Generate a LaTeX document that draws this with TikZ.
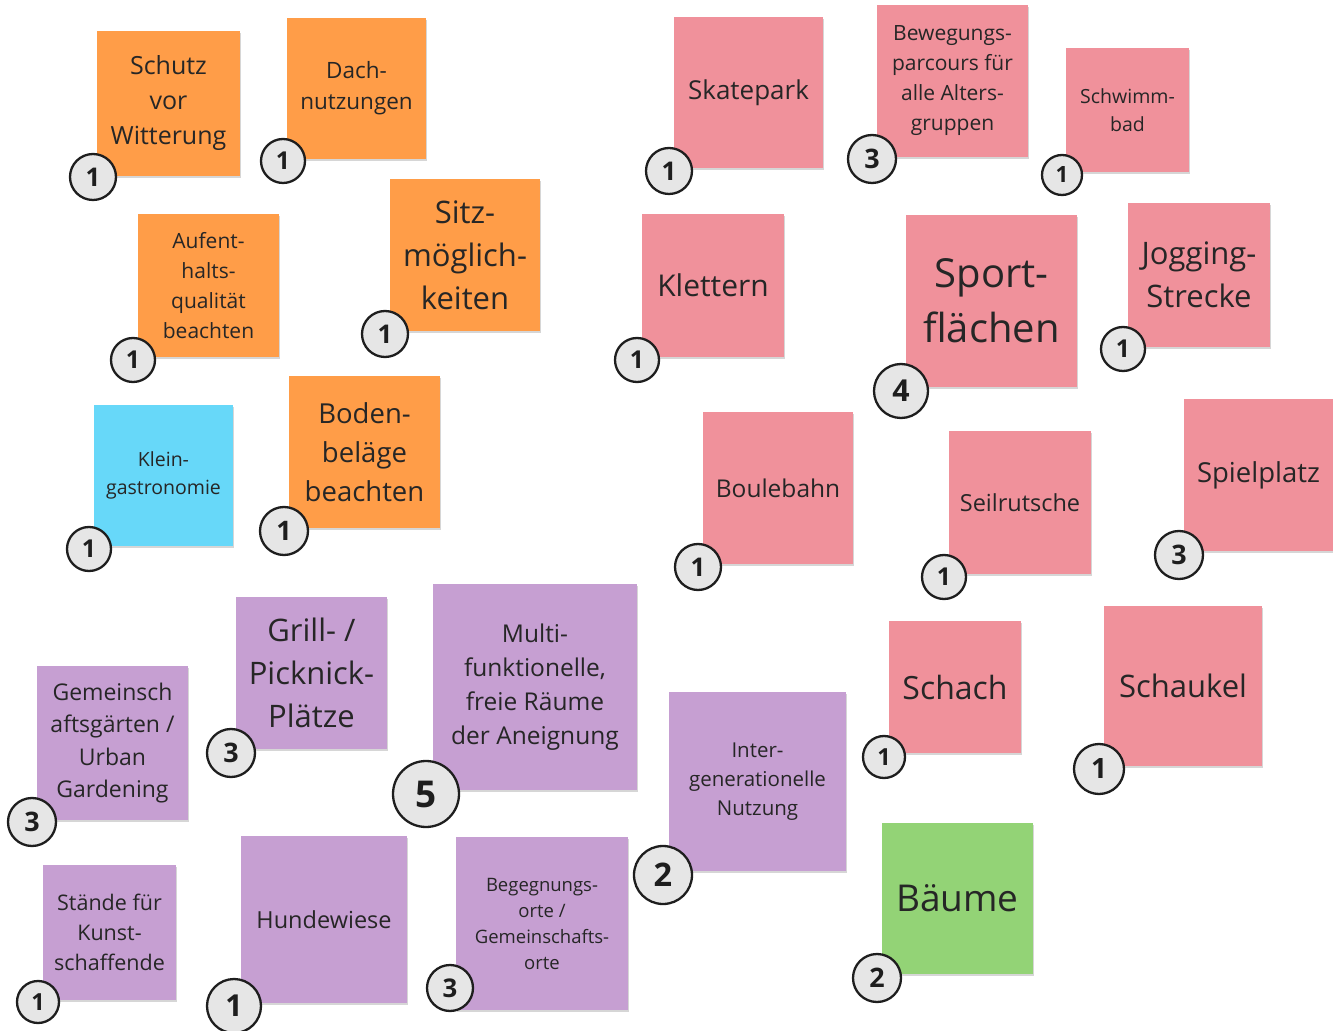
\documentclass[tikz,border=0pt]{standalone}
\usepackage{fontspec}
\setmainfont{Open Sans}
\usetikzlibrary{shadows}

\definecolor{ornote}{HTML}{FF9D48}
\definecolor{pknote}{HTML}{F0919B}
\definecolor{punote}{HTML}{C69FD2}
\definecolor{blnote}{HTML}{67D8F9}
\definecolor{grnote}{HTML}{93D376}
\definecolor{inktext}{HTML}{262626}
\definecolor{badgefill}{HTML}{E6E6E6}
\definecolor{badgeline}{HTML}{1E1E1E}

\tikzset{
  note/.style={rectangle, inner sep=0pt, align=center, text=inktext,
    drop shadow={shadow xshift=0.4pt, shadow yshift=-0.9pt, fill=black, opacity=0.16}},
  countbadge/.style={circle, inner sep=0pt, fill=badgefill, draw=badgeline,
    line width=1.15pt, text=badgeline},
}

% sticky note: name, x1, y1, x2, y2, colour, font size (px), line skip (px), text
\newcommand\stickynote[9]{%
  \pgfmathsetmacro\snw{(#4-#2)*0.5}%
  \pgfmathsetmacro\snh{(#5-#3)*0.5}%
  \pgfmathsetmacro\snfs{#7*0.5}%
  \pgfmathsetmacro\snsk{#8*0.5}%
  \node[note, fill=#6, minimum width=\snw pt, minimum height=\snh pt,
        font=\fontsize{\snfs}{\snsk}\selectfont] (#1) at ({(#2+#4)/2},{(#3+#5)/2}) {#9};}

% vote counter: name, x, y, radius (px), number
\newcommand\votebadge[5]{%
  \pgfmathsetmacro\vbd{#4}%
  \pgfmathsetmacro\vbf{#4*0.56}%
  \node[countbadge, minimum size=\vbd pt,
        font=\bfseries\fontsize{\vbf}{\vbf}\selectfont] (#1) at (#2,#3) {#5};}

\begin{document}
\begin{tikzpicture}[x=0.5pt, y=-0.5pt]
\useasboundingbox (0,0) rectangle (1333,1031);

% orange group
\stickynote{sw}{97}{31}{240}{176}{ornote}{25}{35}{Schutz\\vor\\Witterung}
\stickynote{dn}{287}{18}{426}{159}{ornote}{22.5}{31}{Dach-\\nutzungen}
\stickynote{aq}{138}{214}{279}{357}{ornote}{21}{30}{Aufent-\\halts-\\qualität\\beachten}
\stickynote{sm}{390}{179}{540}{331}{ornote}{31}{43}{Sitz-\\möglich-\\keiten}
\stickynote{bb}{289}{376}{440}{528}{ornote}{27.5}{39}{Boden-\\beläge\\beachten}
\stickynote{kg}{94}{405}{233}{546}{blnote}{19.5}{28}{Klein-\\gastronomie}

% pink group
\stickynote{sk}{674}{17}{823}{168}{pknote}{26}{34}{Skatepark}
\stickynote{bp}{877}{5}{1028}{157}{pknote}{21}{30}{Bewegungs-\\parcours für\\alle Alters-\\gruppen}
\stickynote{sb}{1066}{48}{1189}{172}{pknote}{19.5}{28}{Schwimm-\\bad}
\stickynote{kl}{642}{214}{784}{357}{pknote}{30}{40}{Klettern}
\stickynote{sf}{906}{215}{1077}{387}{pknote}{40}{55}{Sport-\\flächen}
\stickynote{js}{1128}{203}{1270}{347}{pknote}{31}{43}{Jogging-\\Strecke}
\stickynote{bo}{703}{412}{853}{564}{pknote}{24.5}{32}{Boulebahn}
\stickynote{sr}{949}{431}{1091}{574}{pknote}{23.5}{32}{Seilrutsche}
\stickynote{sp}{1184}{399}{1333}{551}{pknote}{27.5}{36}{Spielplatz}
\stickynote{sc}{889}{621}{1021}{753}{pknote}{32}{42}{Schach}
\stickynote{sa}{1104}{606}{1262}{766}{pknote}{31}{40}{Schaukel}

% purple group
\stickynote{gg}{37}{666}{188}{820}{punote}{23}{32.5}{Gemeinsch\\aftsgärten /\\Urban\\Gardening}
\stickynote{gp}{236}{597}{387}{749}{punote}{31}{43}{Grill- /\\Picknick-\\Plätze}
\stickynote{mf}{433}{584}{637}{790}{punote}{24.5}{34}{Multi-\\funktionelle,\\freie Räume\\der Aneignung}
\stickynote{ig}{669}{692}{846}{871}{punote}{20.5}{29}{Inter-\\generationelle\\Nutzung}
\stickynote{st}{43}{865}{176}{1000}{punote}{21.5}{30}{Stände für\\Kunst-\\schaffende}
\stickynote{hw}{241}{836}{407}{1003}{punote}{23.5}{32}{Hundewiese}
\stickynote{bg}{456}{837}{628}{1010}{punote}{18.5}{26}{Begegnungs-\\orte /\\Gemeinschafts-\\orte}

% green
\stickynote{bm}{882}{823}{1033}{974}{grnote}{37}{48}{Bäume}

% vote counters
\votebadge{vsw}{93}{177}{23}{1}
\votebadge{vdn}{283}{161}{22}{1}
\votebadge{vaq}{133}{360}{22}{1}
\votebadge{vsm}{385}{334}{23}{1}
\votebadge{vbb}{284}{531}{24}{1}
\votebadge{vkg}{89}{549}{22}{1}
\votebadge{vsk}{669}{171}{23}{1}
\votebadge{vbp}{872}{159}{24}{3}
\votebadge{vsb}{1062}{175}{20}{1}
\votebadge{vkl}{637}{360}{22}{1}
\votebadge{vsf}{901}{391}{27}{4}
\votebadge{vjs}{1123}{349}{22}{1}
\votebadge{vbo}{698}{567}{23}{1}
\votebadge{vsr}{944}{577}{22}{1}
\votebadge{vsp}{1179}{555}{24}{3}
\votebadge{vsc}{884}{757}{21}{1}
\votebadge{vsa}{1099}{769}{25}{1}
\votebadge{vgg}{32}{822}{24}{3}
\votebadge{vgp}{231}{753}{24}{3}
\votebadge{vmf}{426}{794}{33}{5}
\votebadge{vig}{663}{875}{29}{2}
\votebadge{vst}{38}{1002}{21}{1}
\votebadge{vhw}{234}{1006}{27}{1}
\votebadge{vbg}{450}{988}{23}{3}
\votebadge{vbm}{877}{978}{24}{2}
\end{tikzpicture}
\end{document}
